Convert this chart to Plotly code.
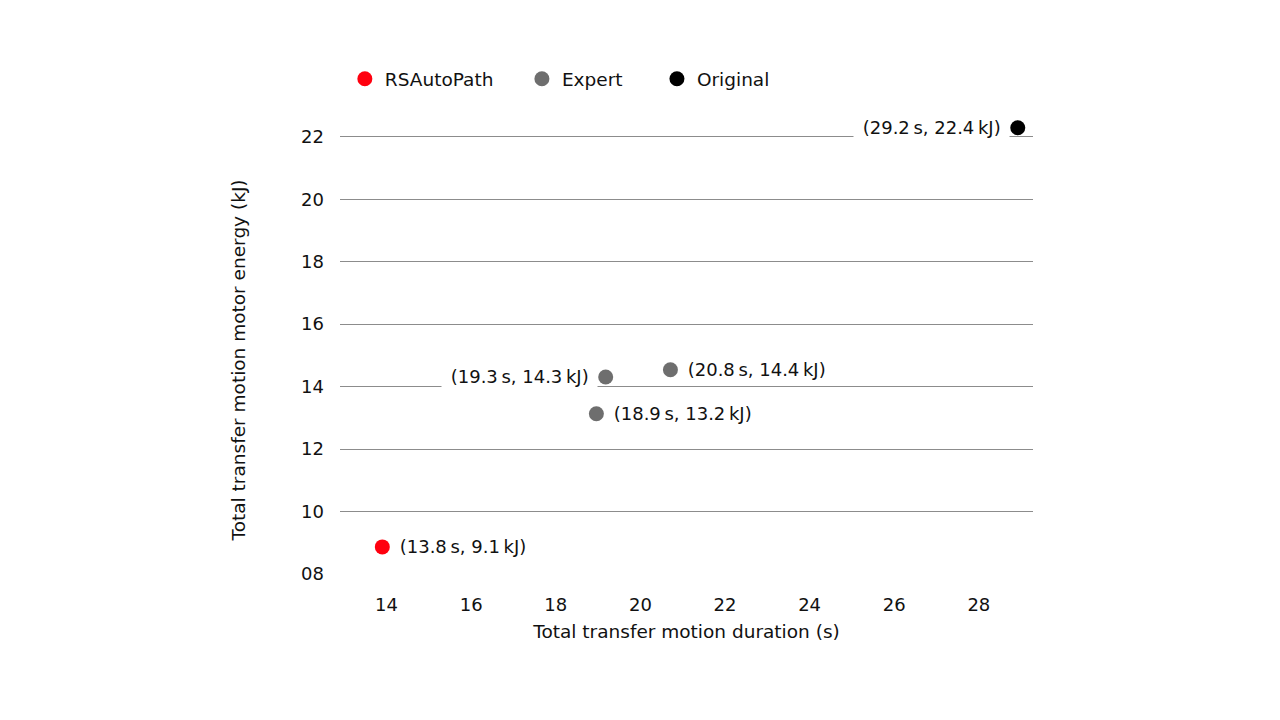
import plotly.graph_objects as go

# Data
series_names = ["RSAutoPath", "Expert", "Original"]
series_colors = ["#ff000f", "#6e6e6e", "#000000"]
series_x = [[13.9], [19.18, 20.71, 18.96], [28.92]]
series_y = [[8.87], [14.31, 14.54, 13.13], [22.29]]
point_labels = [
    ["(13.8\u2009s, 9.1\u2009kJ)"],
    ["(19.3\u2009s, 14.3\u2009kJ)", "(20.8\u2009s, 14.4\u2009kJ)", "(18.9\u2009s, 13.2\u2009kJ)"],
    ["(29.2\u2009s, 22.4\u2009kJ)"],
]
label_sides = [["right"], ["left", "right", "right"], ["left"]]

y_ticks = [8, 10, 12, 14, 16, 18, 20, 22]
y_ticktext = ["08", "10", "12", "14", "16", "18", "20", "22"]
x_ticks = [14, 16, 18, 20, 22, 24, 26, 28]

x_title = "Total transfer motion duration (s)"
y_title = "Total transfer motion motor energy (kJ)"

FONT = "DejaVu Sans"
FS = 18
FT = 18.5
TXT = "#111111"
NB = "\u00a0"
legend_pad = [NB * 4, NB * 5, ""]

fig = go.Figure()
for name, col, xs, ys, pad in zip(series_names, series_colors, series_x, series_y, legend_pad):
    fig.add_trace(go.Scatter(
        x=xs, y=ys, mode="markers", name=name + pad,
        marker=dict(color=col, size=15, line=dict(width=0)),
    ))

for xs, ys, labs, sides in zip(series_x, series_y, point_labels, label_sides):
    for xv, yv, lab, side in zip(xs, ys, labs, sides):
        fig.add_annotation(
            x=xv, y=yv, xref="x", yref="y", text=NB + lab + NB, showarrow=False,
            xanchor="left" if side == "right" else "right",
            xshift=8 if side == "right" else -8,
            yanchor="middle", bgcolor="white", borderpad=3,
            font=dict(family=FONT, size=FS, color=TXT),
        )

# y-axis title (placed as rotated text, slightly below the plot centre as in the original)
fig.add_annotation(
    x=-0.1472, y=0.4694, xref="paper", yref="paper", text=y_title, textangle=-90,
    showarrow=False, xanchor="center", yanchor="middle",
    font=dict(family=FONT, size=FT, color=TXT),
)

fig.update_layout(
    width=1280, height=720,
    paper_bgcolor="white", plot_bgcolor="white",
    margin=dict(l=332, r=255, t=110, b=153, autoexpand=False),
    font=dict(family=FONT, size=FS, color=TXT),
    showlegend=True,
    legend=dict(orientation="h", x=0.007, xanchor="left", y=1.085, yanchor="middle",
                font=dict(family=FONT, size=FT, color=TXT), itemclick=False,
                bgcolor="rgba(0,0,0,0)"),
    xaxis=dict(range=[12.9, 29.28], tickvals=x_ticks, showgrid=False, zeroline=False,
               showline=False, ticks="", automargin=False, ticklabelstandoff=17,
               title=dict(text=x_title, standoff=11,
                          font=dict(family=FONT, size=FT, color=TXT)),
               tickfont=dict(size=FS)),
    yaxis=dict(range=[7.97, 22.6], tickvals=y_ticks, ticktext=y_ticktext, showgrid=True,
               gridcolor="#8c8c8c", gridwidth=1, zeroline=False, showline=False,
               ticks="", ticklabelstandoff=15, automargin=False,
               tickfont=dict(size=FS)),
)

fig.write_html("out.html")
